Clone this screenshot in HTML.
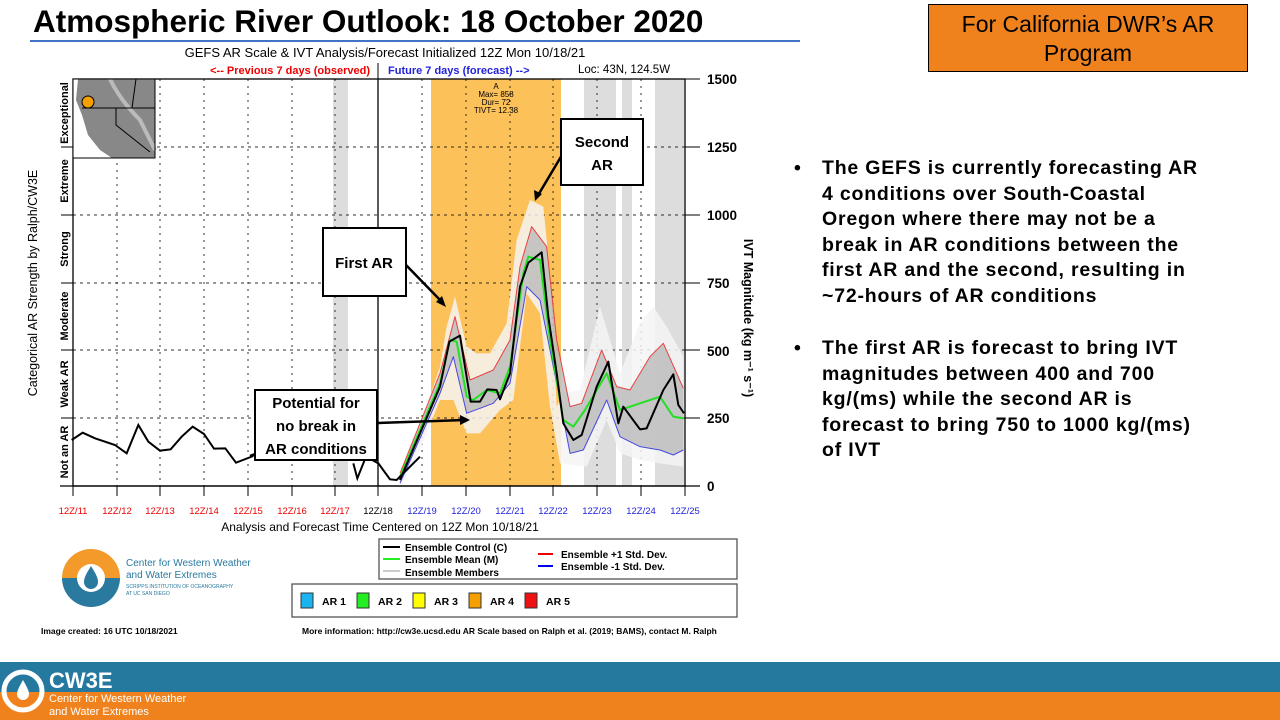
<!DOCTYPE html>
<html><head><meta charset="utf-8"><style>
body{margin:0;width:1280px;height:720px;overflow:hidden;background:#fff;font-family:"Liberation Sans",Arial,sans-serif;position:relative}
.a{position:absolute}
.bul{position:absolute;left:794px;font-size:19.5px;letter-spacing:0.8px;font-weight:bold;line-height:25.6px;color:#000;white-space:nowrap}
.bul div{padding-left:28px;position:relative}
.bul div:before{content:"•";position:absolute;left:0;top:0}
</style></head><body>
<div class="a" style="left:33px;top:3px;font-size:31.5px;font-weight:bold;">Atmospheric River Outlook: 18 October 2020</div>
<div class="a" style="left:30px;top:40px;width:770px;height:2px;background:#4472c4"></div>
<div class="a" style="left:928px;top:4px;width:320px;height:68px;background:#f0821e;border:1.5px solid #000;font-size:23px;text-align:center;line-height:29px;padding-top:5px;box-sizing:border-box">For California DWR’s AR<br>Program</div>
<div class="bul" style="top:156px"><div>The GEFS is currently forecasting AR<br>4 conditions over South-Coastal<br>Oregon where there may not be a<br>break in AR conditions between the<br>first AR and the second, resulting in<br>~72-hours of AR conditions</div></div>
<div class="bul" style="top:336px"><div>The first AR is forecast to bring IVT<br>magnitudes between 400 and 700<br>kg/(ms) while the second AR is<br>forecast to bring 750 to 1000 kg/(ms)<br>of IVT</div></div>

<svg class="a" style="left:0;top:0" width="1280" height="720" font-family="Liberation Sans,Arial,sans-serif">
<text x="385" y="57" font-size="13" text-anchor="middle">GEFS AR Scale &amp; IVT Analysis/Forecast Initialized 12Z Mon 10/18/21</text>
<text x="370" y="74" font-size="11" font-weight="bold" fill="#e00" text-anchor="end">&lt;-- Previous 7 days (observed)</text>
<text x="388" y="74" font-size="11" font-weight="bold" fill="#22d">Future 7 days (forecast) --&gt;</text>
<text x="578" y="73" font-size="11.5">Loc: 43N, 124.5W</text>
<line x1="378" y1="63" x2="378" y2="79" stroke="#000"/>
<rect x="333" y="79" width="15" height="407" fill="#ddd"/>
<rect x="431" y="79" width="130" height="407" fill="#fdc15a"/>
<rect x="584" y="79" width="32" height="407" fill="#ddd"/>
<rect x="622" y="79" width="10" height="407" fill="#ddd"/>
<rect x="655" y="79" width="29" height="407" fill="#ddd"/>
<text x="496" y="89" font-size="8" text-anchor="middle">A</text>
<text x="496" y="97" font-size="8" text-anchor="middle">Max= 858</text>
<text x="496" y="105" font-size="8" text-anchor="middle">Dur= 72</text>
<text x="496" y="113" font-size="8" text-anchor="middle">TIVT= 12.38</text>
<g stroke="#000" stroke-width="1" stroke-dasharray="3,4" opacity="0.8">
<line x1="73" y1="418" x2="685" y2="418"/><line x1="73" y1="350" x2="685" y2="350"/><line x1="73" y1="283" x2="685" y2="283"/><line x1="73" y1="215" x2="685" y2="215"/><line x1="73" y1="147" x2="685" y2="147"/>
<g stroke-dasharray="2,5"><line x1="117" y1="79" x2="117" y2="486"/><line x1="160" y1="79" x2="160" y2="486"/><line x1="204" y1="79" x2="204" y2="486"/><line x1="248" y1="79" x2="248" y2="486"/><line x1="292" y1="79" x2="292" y2="486"/><line x1="335" y1="79" x2="335" y2="486"/><line x1="422" y1="79" x2="422" y2="486"/><line x1="466" y1="79" x2="466" y2="486"/><line x1="510" y1="79" x2="510" y2="486"/><line x1="553" y1="79" x2="553" y2="486"/><line x1="597" y1="79" x2="597" y2="486"/><line x1="641" y1="79" x2="641" y2="486"/></g>
</g>
<line x1="378" y1="79" x2="378" y2="486" stroke="#000" stroke-width="1.3"/>
<g transform="translate(400,40) scale(0.33333)" fill="none" stroke-linejoin="round">
<polygon points="0,1300 60,1160 120,980 140,860 165,770 200,920 230,940 270,940 320,850 350,600 390,480 430,500 450,700 470,1100 490,1060 540,1050 600,800 630,900 660,1000 720,850 760,800 800,860 850,950 850,1280 780,1270 720,1260 660,1240 620,1140 560,1280 480,1270 450,1100 420,820 380,760 340,1080 300,1110 240,1180 200,1180 160,1080 120,1080 60,1230 0,1340" fill="#f5f5f5" stroke="none" opacity="0.85"/>
<polygon points="0,1300 120,1000 165,830 210,1020 280,990 330,900 360,680 395,560 440,620 470,900 510,1100 545,1090 605,930 650,1040 690,1050 750,950 790,910 850,1045 850,1230 820,1245 780,1230 720,1220 660,1190 620,1080 550,1230 510,1240 470,1030 420,780 380,740 370,800 330,1030 280,1090 200,1120 160,950 120,1060 0,1330" fill="#bdbdbd" stroke="none" opacity="0.85"/>
<polyline points="0,1300 120,1000 165,830 210,1020 280,990 330,900 360,680 395,560 440,620 470,900 510,1100 545,1090 605,930 650,1040 690,1050 750,950 790,910 850,1045" stroke="#e84040" stroke-width="3"/>
<polyline points="0,1330 120,1060 160,950 200,1120 280,1090 330,1030 370,800 380,740 420,780 470,1030 510,1240 550,1230 620,1080 660,1190 720,1220 780,1230 820,1245 850,1230" stroke="#4848e0" stroke-width="3"/>
<polyline points="0,1310 120,1030 150,900 170,905 200,1070 220,1080 260,1050 300,1060 330,980 370,700 385,650 420,660 450,900 490,1140 520,1160 555,1110 620,1000 660,1110 720,1090 780,1070 820,1130 850,1135" stroke="#22e022" stroke-width="6"/>
<polyline points="0,1320 120,1040 148,905 180,887 212,1085 240,1085 262,1048 290,1050 300,1078 330,1000 360,740 385,668 425,637 445,830 470,1000 490,1150 520,1200 545,1185 590,1040 625,965 655,1150 670,1100 720,1168 740,1165 790,1050 820,1003 835,1095 852,1120" stroke="#000" stroke-width="6"/>
</g>
<g transform="translate(0,40) scale(0.33333)" fill="none">
<polyline points="215,1200 248,1178 285,1195 345,1215 380,1240 415,1155 445,1205 480,1232 512,1228 545,1190 578,1160 612,1182 642,1226 676,1225 708,1268 760,1248" stroke="#000" stroke-width="6"/>
<polyline points="1060,1270 1072,1315 1098,1250 1135,1270 1170,1318 1190,1320 1260,1250" stroke="#000" stroke-width="6"/>
</g>
<rect x="73" y="79" width="612" height="407" fill="none" stroke="#000" stroke-width="1.3"/>
<g stroke="#000"><line x1="685" y1="79" x2="700" y2="79"/><line x1="685" y1="147" x2="700" y2="147"/><line x1="685" y1="215" x2="700" y2="215"/><line x1="685" y1="283" x2="700" y2="283"/><line x1="685" y1="350" x2="700" y2="350"/><line x1="685" y1="418" x2="700" y2="418"/><line x1="685" y1="486" x2="700" y2="486"/></g>
<line x1="60" y1="486" x2="700" y2="486" stroke="#000" stroke-width="1.3"/>
<g font-size="13.5" font-weight="bold"><text x="707" y="84">1500</text><text x="707" y="152">1250</text><text x="707" y="220">1000</text><text x="707" y="288">750</text><text x="707" y="356">500</text><text x="707" y="423">250</text><text x="707" y="491">0</text></g>
<text transform="translate(744,318) rotate(90)" font-size="12.5" font-weight="bold" text-anchor="middle">IVT Magnitude (kg m⁻¹ s⁻¹)</text>
<text transform="translate(37,283) rotate(-90)" font-size="12.5" text-anchor="middle">Categorical AR Strength by Ralph/CW3E</text>
<g font-size="11" font-weight="bold" text-anchor="middle">
<text transform="translate(68,452) rotate(-90)">Not an AR</text><text transform="translate(68,384) rotate(-90)">Weak AR</text><text transform="translate(68,316) rotate(-90)">Moderate</text><text transform="translate(68,249) rotate(-90)">Strong</text><text transform="translate(68,181) rotate(-90)">Extreme</text><text transform="translate(68,113) rotate(-90)">Exceptional</text></g>
<g stroke="#000"><line x1="61" y1="418" x2="73" y2="418"/><line x1="61" y1="350" x2="73" y2="350"/><line x1="61" y1="283" x2="73" y2="283"/><line x1="61" y1="215" x2="73" y2="215"/><line x1="61" y1="147" x2="73" y2="147"/>
<line x1="73" y1="486" x2="73" y2="496"/><line x1="117" y1="486" x2="117" y2="496"/><line x1="160" y1="486" x2="160" y2="496"/><line x1="204" y1="486" x2="204" y2="496"/><line x1="248" y1="486" x2="248" y2="496"/><line x1="292" y1="486" x2="292" y2="496"/><line x1="335" y1="486" x2="335" y2="496"/><line x1="378" y1="486" x2="378" y2="496"/><line x1="422" y1="486" x2="422" y2="496"/><line x1="466" y1="486" x2="466" y2="496"/><line x1="510" y1="486" x2="510" y2="496"/><line x1="553" y1="486" x2="553" y2="496"/><line x1="597" y1="486" x2="597" y2="496"/><line x1="641" y1="486" x2="641" y2="496"/><line x1="685" y1="486" x2="685" y2="496"/></g>
<g font-size="9.5" text-anchor="middle" fill="#e00"><text x="73" y="514">12Z/11</text><text x="117" y="514">12Z/12</text><text x="160" y="514">12Z/13</text><text x="204" y="514">12Z/14</text><text x="248" y="514">12Z/15</text><text x="292" y="514">12Z/16</text><text x="335" y="514">12Z/17</text><text x="378" y="514" fill="#000">12Z/18</text>
<g fill="#22d"><text x="422" y="514">12Z/19</text><text x="466" y="514">12Z/20</text><text x="510" y="514">12Z/21</text><text x="553" y="514">12Z/22</text><text x="597" y="514">12Z/23</text><text x="641" y="514">12Z/24</text><text x="685" y="514">12Z/25</text></g></g>
<text x="380" y="531" font-size="12" text-anchor="middle">Analysis and Forecast Time Centered on 12Z Mon 10/18/21</text>
<rect x="73" y="79" width="82" height="79" fill="#888"/>
<path d="M73,79 L78,79 L76,100 L82,115 L88,135 L100,150 L112,158 L73,158Z" fill="#fff"/>
<path d="M110,79 Q120,100 140,120 Q150,140 155,150" stroke="#bbb" stroke-width="4" fill="none"/>
<path d="M82,108 L155,108 M116,108 L116,125 L150,152 M136,79 L132,108" stroke="#000" fill="none"/>
<rect x="73" y="79" width="82" height="79" fill="none" stroke="#000"/>
<circle cx="88" cy="102" r="6" fill="#f5a000" stroke="#000"/>
<g stroke="#000" stroke-width="2.5"><line x1="406" y1="265" x2="442" y2="302"/><line x1="378" y1="423" x2="465" y2="420"/><line x1="562" y1="155" x2="537" y2="197"/><line x1="250" y1="456" x2="258" y2="453"/></g>
<g fill="#000"><polygon points="446,307 436,302 442,296"/><polygon points="470,420 460,415 460,425"/><polygon points="535,201 534,190 542,194"/></g>
<rect x="323" y="228" width="83" height="68" fill="#fff" stroke="#000" stroke-width="2"/>
<text x="364" y="268" font-size="15" font-weight="bold" text-anchor="middle">First AR</text>
<rect x="561" y="119" width="82" height="66" fill="#fff" stroke="#000" stroke-width="2"/>
<text x="602" y="147" font-size="15" font-weight="bold" text-anchor="middle">Second</text><text x="602" y="170" font-size="15" font-weight="bold" text-anchor="middle">AR</text>
<rect x="255" y="390" width="122" height="70" fill="#fff" stroke="#000" stroke-width="2"/>
<g font-size="15" font-weight="bold" text-anchor="middle"><text x="316" y="408">Potential for</text><text x="316" y="431">no break in</text><text x="316" y="454">AR conditions</text></g>
<rect x="379" y="539" width="358" height="40" fill="#fff" stroke="#555" stroke-width="1.3"/>
<g font-size="10" font-weight="bold"><line x1="383" y1="547" x2="400" y2="547" stroke="#000" stroke-width="2"/><text x="405" y="551">Ensemble Control (C)</text>
<line x1="383" y1="559" x2="400" y2="559" stroke="#2e2" stroke-width="2"/><text x="405" y="563">Ensemble Mean (M)</text>
<line x1="383" y1="571" x2="400" y2="571" stroke="#ccc" stroke-width="2"/><text x="405" y="576">Ensemble Members</text>
<line x1="538" y1="554" x2="553" y2="554" stroke="#e00" stroke-width="2"/><text x="561" y="558">Ensemble +1 Std. Dev.</text>
<line x1="538" y1="566" x2="553" y2="566" stroke="#00e" stroke-width="2"/><text x="561" y="570">Ensemble -1 Std. Dev.</text></g>
<rect x="292" y="584" width="445" height="33" fill="#fff" stroke="#555" stroke-width="1.3"/>
<g stroke="#333"><rect x="301" y="593" width="12" height="15" fill="#1ab4f0"/><rect x="357" y="593" width="12" height="15" fill="#22ee22"/><rect x="413" y="593" width="12" height="15" fill="#ffff00"/><rect x="469" y="593" width="12" height="15" fill="#f5a000"/><rect x="525" y="593" width="12" height="15" fill="#ee1111"/></g>
<g font-size="10.5" font-weight="bold"><text x="322" y="605">AR 1</text><text x="378" y="605">AR 2</text><text x="434" y="605">AR 3</text><text x="490" y="605">AR 4</text><text x="546" y="605">AR 5</text></g>
<text x="41" y="634" font-size="8.5" font-weight="bold">Image created: 16 UTC 10/18/2021</text>
<text x="302" y="634" font-size="8.5" font-weight="bold">More information: http://cw3e.ucsd.edu  AR Scale based on Ralph et al. (2019; BAMS), contact M. Ralph</text>
<path d="M62,578 A29,29 0 0 1 120,578Z" fill="#f39a2a"/><path d="M62,578 A29,29 0 0 0 120,578Z" fill="#2a7aa0"/>
<circle cx="91" cy="578" r="14" fill="#fff"/><path d="M91,566 C86,574 84,578 84,582 A7,7 0 0 0 98,582 C98,578 96,574 91,566Z" fill="#2a7aa0"/>
<text x="126" y="566" font-size="10" fill="#2a7aa0">Center for Western Weather</text>
<text x="126" y="578" font-size="10" fill="#2a7aa0">and Water Extremes</text>
<text x="126" y="588" font-size="5" fill="#2a7aa0">SCRIPPS INSTITUTION OF OCEANOGRAPHY</text>
<text x="126" y="595" font-size="5" fill="#2a7aa0">AT UC SAN DIEGO</text>
<rect x="0" y="662" width="1280" height="30" fill="#25799f"/>
<rect x="0" y="692" width="1280" height="28" fill="#f0821e"/>
<circle cx="23" cy="691" r="19" fill="none" stroke="#fff" stroke-width="5"/>
<path d="M23,680 C19,687 17,691 17,694 A6,6 0 0 0 29,694 C29,691 27,687 23,680Z" fill="#fff"/>
<text x="49" y="688" font-size="22" font-weight="bold" fill="#fff">CW3E</text>
<text x="49" y="702" font-size="11" fill="#fff">Center for Western Weather</text>
<text x="49" y="715" font-size="11" fill="#fff">and Water Extremes</text>
</svg>
</body></html>
